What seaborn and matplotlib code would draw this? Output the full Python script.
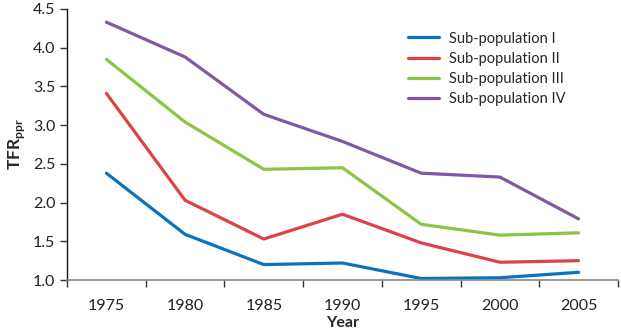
import numpy as np
import pandas as pd
import matplotlib
matplotlib.use('Agg')
import matplotlib.pyplot as plt
import seaborn as sns

years = ['1975', '1980', '1985', '1990', '1995', '2000', '2005']
sub1 = [2.38, 1.59, 1.20, 1.22, 1.02, 1.03, 1.10]
sub2 = [3.41, 2.03, 1.53, 1.85, 1.48, 1.23, 1.25]
sub3 = [3.85, 3.04, 2.43, 2.45, 1.72, 1.58, 1.61]
sub4 = [4.33, 3.88, 3.14, 2.79, 2.38, 2.33, 1.79]
names = ['Sub-population I', 'Sub-population II', 'Sub-population III', 'Sub-population IV']
colors = ['#0A72C0', '#DE4146', '#8CC446', '#8058A5']

rows = []
for name, vals in zip(names, [sub1, sub2, sub3, sub4]):
    for i, v in enumerate(vals):
        rows.append({'pos': i, 'Year': years[i], 'TFR': v, 'group': name})
df = pd.DataFrame(rows)

sns.set_style('white')
plt.rcParams['font.family'] = ['Lato', 'DejaVu Sans']
plt.rcParams['mathtext.fontset'] = 'custom'
plt.rcParams['mathtext.bf'] = 'Lato:bold'
plt.rcParams['mathtext.rm'] = 'Lato'

fig = plt.figure(figsize=(6.21, 3.33), dpi=100)
ax = fig.add_axes([0.108, 0.159, 0.887, 0.814])

sns.lineplot(data=df, x='pos', y='TFR', hue='group', hue_order=names,
             palette=colors, linewidth=2.3, ax=ax)

ax.set_xlim(-0.5, 6.5)
ax.set_ylim(1.0, 4.5)
ax.set_yticks(np.arange(1.0, 4.51, 0.5))
ax.set_yticklabels([f'{v:.1f}' for v in np.arange(1.0, 4.51, 0.5)])
ax.set_xticks(np.arange(-0.5, 6.6, 1.0))
ax.set_xticklabels([])
ax.set_xticks(range(len(years)), minor=True)
ax.set_xticklabels(years, minor=True)
ax.tick_params(axis='x', which='major', direction='out', length=5, width=1, color='#333333', bottom=True)
ax.tick_params(axis='x', which='minor', length=0, pad=14, labelsize=11.5, labelcolor='#222222')
ax.tick_params(axis='y', direction='out', length=5, width=1, color='#333333', left=True, labelsize=11.5, labelcolor='#222222')

for s in ['top', 'right']:
    ax.spines[s].set_visible(False)
ax.spines['left'].set_color('#111111')
ax.spines['bottom'].set_color('#888888')
ax.spines['left'].set_linewidth(1.0)
ax.spines['bottom'].set_linewidth(1.2)

ax.set_xlabel('Year', fontsize=11.5, fontweight='bold', labelpad=2)
ax.set_ylabel(r'$\mathbf{TFR}_{\mathbf{ppr}}$', fontsize=12.5, labelpad=4)

leg = ax.legend(loc='upper left', bbox_to_anchor=(0.595, 0.965), frameon=False,
                fontsize=10.5, handlelength=2.1, handletextpad=0.7, labelspacing=0.42)
for line in leg.get_lines():
    line.set_linewidth(2.3)

fig.savefig('out.png', dpi=100)
